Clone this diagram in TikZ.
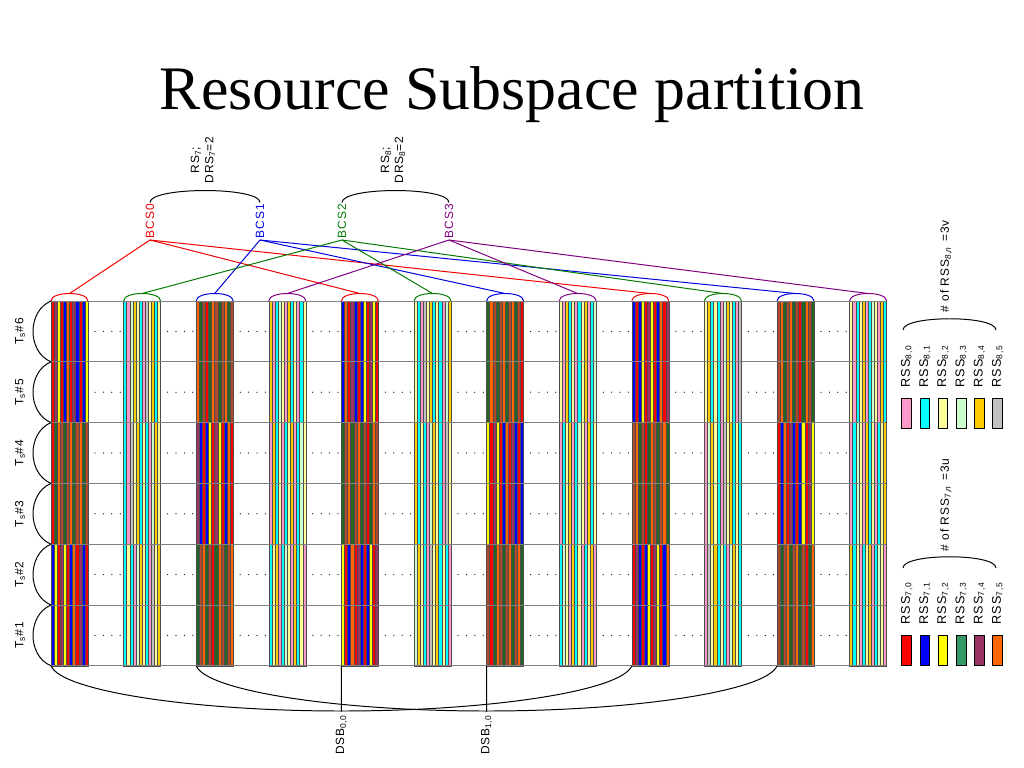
\documentclass[tikz,border=0pt]{standalone}
\usepackage{fontspec}
\setmainfont{Liberation Serif}
\newfontfamily\lblfont{Liberation Sans}[LetterSpace=8.0]

\definecolor{cRed}{HTML}{FF0000}
\definecolor{cBlue}{HTML}{0000FF}
\definecolor{cYellow}{HTML}{FFFF00}
\definecolor{cGreen}{HTML}{339966}
\definecolor{cPurple}{HTML}{993366}
\definecolor{cOrange}{HTML}{FF6600}
\definecolor{cDkGreen}{HTML}{226622}
\definecolor{cRust}{HTML}{B0482A}
\definecolor{cPink}{HTML}{FF99CC}
\definecolor{cCyan}{HTML}{00FFFF}
\definecolor{cLtYellow}{HTML}{FFFF99}
\definecolor{cLtGreen}{HTML}{CCFFCC}
\definecolor{cGold}{HTML}{FFCC00}
\definecolor{cGray}{HTML}{C0C0C0}
\definecolor{bcsRed}{HTML}{EE0000}
\definecolor{bcsBlue}{HTML}{0000DD}
\definecolor{bcsGreen}{HTML}{007A00}
\definecolor{bcsPurple}{HTML}{800080}

\def\palA{{"cRed","cPurple","cYellow","cRed","cBlue","cOrange","cRed","cPurple","cBlue","cRed","cBlue","cYellow"}}
\def\palC{{"cDkGreen","cRust","cOrange","cDkGreen","cRust","cRed","cDkGreen","cOrange","cRust","cDkGreen","cRust","cOrange"}}
\def\palB{{"cLtYellow","cCyan","cPink","cLtGreen","cGold","cLtYellow","cCyan","cPink","cGray","cLtYellow","cGold","cCyan"}}
\def\palD{{"cPink","cCyan","cLtYellow","cGold","cPink","cCyan","cLtGreen","cLtYellow","cPink","cGold","cCyan","cLtYellow"}}
\def\capcol{{"bcsRed","bcsGreen","bcsBlue","bcsPurple"}}

\begin{document}
\begin{tikzpicture}[x=.025cm,y=-.025cm,font={\lblfont\fontsize{8.5}{10}\selectfont},
  tag/.style={rotate=90,inner sep=1pt},
  keytag/.style={tag,font={\lblfont\fontsize{9}{11}\selectfont}},
  stripe/.style={draw=black!70,line width=.3pt},
  rowline/.style={gray,line width=.6pt},
  link/.style={line width=.7pt},
  keybox/.style={draw,line width=.7pt,minimum width=.2375cm,minimum height=.75cm,inner sep=0pt}]
\useasboundingbox (0,0) rectangle (1024,768);

\node[font={\rmfamily\fontsize{44}{52}\selectfont},anchor=base] (title) at (512,110) {Resource Subspace partition};

% columns of subcarrier stripes
\foreach \c in {0,...,11}{
  \pgfmathsetmacro\xl{51+72.6*\c}
  \foreach \p in {0,1,2}{
    \pgfmathtruncatemacro\kind{isodd(\c) ? 2+mod((\c-1)/2,2) : mod(\c/2+\p,2)}
    \foreach \s in {0,...,11}{
      \pgfmathtruncatemacro\k{mod(\s+5*\p+\c,12)}
      \ifcase\kind \pgfmathsetmacro\sc{\palA[\k]}
      \or \pgfmathsetmacro\sc{\palC[\k]}
      \or \pgfmathsetmacro\sc{\palB[\k]}
      \else \pgfmathsetmacro\sc{\palD[\k]}
      \fi
      \filldraw[stripe,fill=\sc] ({\xl+\s*37/12},{301+121.6*\p}) rectangle ++(37/12,121.6);
    }
  }
  \pgfmathsetmacro\cc{\capcol[mod(\c,4)]}
  \coordinate (top\c) at ({\xl+18.5},293.5);
  \coordinate (bot\c) at (\xl,665.8);
  \draw[\cc,link] (\xl,301) .. controls +(0,-10) and +(0,-10) .. ({\xl+37},301);
}

\foreach \r in {0,...,6}
  \draw[rowline] (51,{301+60.8*\r}) -- (886,{301+60.8*\r});

\foreach \c in {0,...,10}
  \foreach \r in {0,...,5}
    \foreach \d in {0,...,3}
      \fill ({95+72.6*\c+8.4*\d},{331.4+60.8*\r}) circle (.45pt);

% time slots
\foreach \r in {0,...,5}{
  \pgfmathtruncatemacro\n{6-\r}
  \node[tag] (ts\n) at (20,{331.4+60.8*\r}) {T\textsubscript{s}\#\n};
  \draw[link] (51,{301+60.8*\r}) .. controls +(-24,10) and +(-24,-10) .. (51,{361.8+60.8*\r});
}

% BCS groups
\node[tag,anchor=west,text=bcsRed] (bcs0) at (150,240) {BCS0};
\node[tag,anchor=west,text=bcsBlue] (bcs1) at (260,240) {BCS1};
\node[tag,anchor=west,text=bcsGreen] (bcs2) at (342,240) {BCS2};
\node[tag,anchor=west,text=bcsPurple] (bcs3) at (449,240) {BCS3};

\foreach \b/\col/\first in {0/bcsRed/0,1/bcsBlue/2,2/bcsGreen/1,3/bcsPurple/3}
  \foreach \k in {0,4,8}{
    \pgfmathtruncatemacro\t{\first+\k}
    \draw[\col,link] (bcs\b.west) -- (top\t);
  }

\draw[link] (bcs0.east) .. controls +(0,-16) and +(0,-16) .. (bcs1.east);
\draw[link] (bcs2.east) .. controls +(0,-16) and +(0,-16) .. (bcs3.east);
\node[tag,align=center] (rs7) at (203,160) {RS\textsubscript{7};\\DRS\textsubscript{7}=2};
\node[tag,align=center] (rs8) at (393,160) {RS\textsubscript{8};\\DRS\textsubscript{8}=2};

% distributed subbands
\coordinate (dsb0) at (341.4,711);
\coordinate (dsb1) at (486.6,711);
\draw[link] (bot0) .. controls +(10,25) and +(-150,0) .. (dsb0) .. controls +(150,0) and +(-10,25) .. (bot8);
\draw[link] (bot2) .. controls +(10,25) and +(-150,0) .. (dsb1) .. controls +(150,0) and +(-10,25) .. (bot10);
\draw[link] (bot4) -- (dsb0);
\draw[link] (bot6) -- (dsb1);
\node[tag,anchor=east] (dsblbl0) at (341.4,713) {DSB\textsubscript{0,0}};
\node[tag,anchor=east] (dsblbl1) at (486.6,713) {DSB\textsubscript{1,0}};

% legend
\foreach \i/\col in {0/cPink,1/cCyan,2/cLtYellow,3/cLtGreen,4/cGold,5/cGray}{
  \node[keybox,fill=\col] (key8\i) at ({906.7+18.2*\i},413) {};
  \node[keytag,anchor=west] (rss8\i) at ({906.7+18.2*\i},389) {RSS\textsubscript{8,\i}};
}
\foreach \i/\col in {0/cRed,1/cBlue,2/cYellow,3/cGreen,4/cPurple,5/cOrange}{
  \node[keybox,fill=\col] (key7\i) at ({906.7+18.2*\i},650) {};
  \node[keytag,anchor=west] (rss7\i) at ({906.7+18.2*\i},626) {RSS\textsubscript{7,\i}};
}
\draw[link] (903,330) .. controls +(0,-15) and +(0,-15) .. (996,330);
\draw[link] (903,568) .. controls +(0,-15) and +(0,-15) .. (996,568);
\node[tag,anchor=west] (num8) at (946,314) {\# of RSS\textsubscript{8,\textit{n}} =3v};
\node[tag,anchor=west] (num7) at (946,553) {\# of RSS\textsubscript{7,\textit{n}} =3u};

\end{tikzpicture}
\end{document}
